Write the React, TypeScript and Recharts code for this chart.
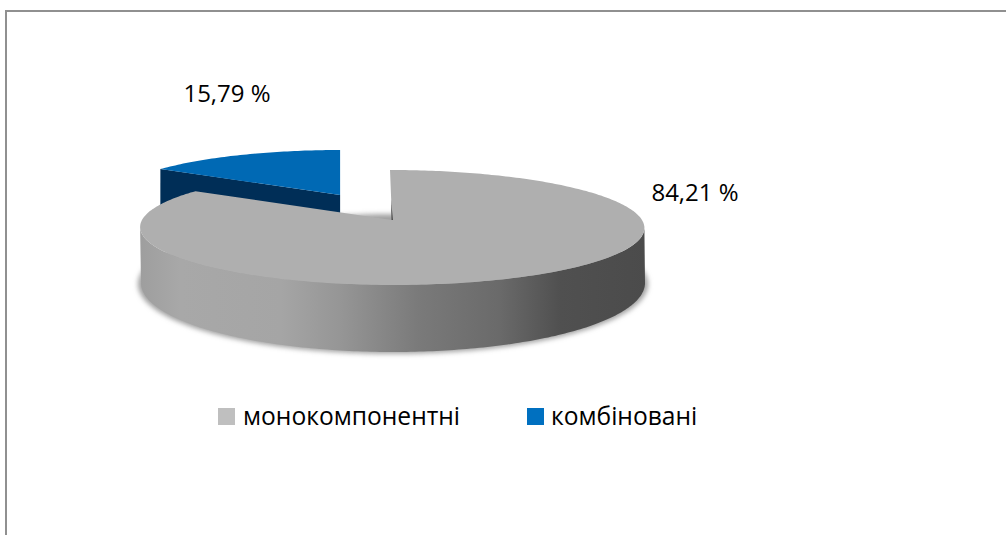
import { Legend, Pie, PieChart } from 'recharts';

const CATEGORIES = ['комбіновані', 'монокомпонентні'];
const SHARES = [15.79, 84.21];
const LEGEND_COLORS = ['#0070c0', '#bfbfbf'];

const TOP_COLORS: Record<string, string> = {
  'комбіновані': '#0069b4',
  'монокомпонентні': '#afafaf',
};

const LABEL_SPOTS: Record<string, { x: number; y: number }> = {
  'комбіновані': { x: 227, y: 92 },
  'монокомпонентні': { x: 695, y: 191 },
};

const TEXT_FONT = '"Open Sans", sans-serif';

const pieData = CATEGORIES.map((name, i) => ({
  name,
  value: SHARES[i],
  fill: LEGEND_COLORS[i],
}));

// the 3d look: disk is tilted and seen in perspective
const PERSPECTIVE = 0.13;
const TILT = 0.226;
const SKEW = 2;

function rim(r: number, deg: number, skew = SKEW) {
  const rad = (deg * Math.PI) / 180;
  const u = Math.cos(rad);
  const v = Math.sin(rad);
  const w = 1 + PERSPECTIVE * v;
  return { x: (r * u) / w - skew * v, y: (-r * TILT * v) / w };
}

function rimPoints(cx: number, cy: number, r: number, from: number, to: number, sx = 1, sy = 1, skew = SKEW) {
  const steps = Math.ceil(Math.abs(to - from));
  const pts: string[] = [];
  for (let i = 0; i <= steps; i++) {
    const p = rim(r, from + ((to - from) * i) / steps, skew);
    pts.push(`${(cx + p.x * sx).toFixed(1)},${(cy + p.y * sy).toFixed(1)}`);
  }
  return pts;
}

function lowerEdge(cx: number, cy: number, r: number, from: number, to: number) {
  const steps = Math.ceil(Math.abs(to - from));
  const pts: string[] = [];
  for (let i = 0; i <= steps; i++) {
    const t = ((from + ((to - from) * i) / steps) * Math.PI) / 180;
    pts.push(`${(cx + 1 + r * 1.008 * Math.cos(t)).toFixed(1)},${(cy + 63 - r * 0.276 * Math.sin(t)).toFixed(1)}`);
  }
  return pts;
}

function Slice3D(props: any) {
  const { cx, cy, outerRadius: r, startAngle, endAngle, name } = props;

  if (name === 'комбіновані') {
    const mid = ((startAngle + endAngle) / 2) * (Math.PI / 180);
    const ax = cx + 109 * Math.cos(mid);
    const ay = cy - 28.4 * Math.sin(mid);
    const top = rimPoints(ax, ay, r, startAngle, endAngle, 0.92, 0.9, 0);
    const first = rim(r, startAngle, 0);
    const lx = ax + first.x * 0.92;
    const ly = ay + first.y * 0.9;
    return (
      <g>
        <polygon points={`${lx},${ly} ${ax},${ay} ${ax},${ay + 60} ${lx},${ly + 60}`} fill="#002e57" />
        <polygon points={`${ax},${ay} ${top.join(' ')}`} fill={TOP_COLORS[name]} />
      </g>
    );
  }

  const top = rimPoints(cx, cy, r, startAngle, endAngle);
  const wall = [...rimPoints(cx, cy, r, 187.5, 352.5), ...lowerEdge(cx, cy, r, 360, 180)];
  const shadow = lowerEdge(cx, cy + 1, r * 1.012, 0, 360);
  return (
    <g>
      <defs>
        <linearGradient id="wallShade" gradientUnits="userSpaceOnUse" x1={cx - 252} x2={cx + 254} y1={0} y2={0}>
          <stop offset="0" stopColor="#9e9e9e" />
          <stop offset="0.08" stopColor="#a8a8a8" />
          <stop offset="0.28" stopColor="#a5a5a5" />
          <stop offset="0.4" stopColor="#959595" />
          <stop offset="0.55" stopColor="#7a7a7a" />
          <stop offset="0.71" stopColor="#6a6a6a" />
          <stop offset="0.83" stopColor="#505050" />
          <stop offset="1" stopColor="#4b4b4b" />
        </linearGradient>
        <filter id="softEdge" x="-5%" y="-20%" width="110%" height="140%">
          <feGaussianBlur stdDeviation="2.5" />
        </filter>
      </defs>
      <polygon points={shadow.join(' ')} fill="#a0a0a0" filter="url(#softEdge)" />
      <polygon points={wall.join(' ')} fill="url(#wallShade)" />
      <polygon points={`${cx},${cy} ${top.join(' ')}`} fill={TOP_COLORS[name]} />
      <polygon points={`${cx - 1},${cy - 20} ${cx + 1},${cy} ${cx - 0.5},${cy}`} fill="#4d4d4d" />
    </g>
  );
}

function renderLabel(props: any) {
  const spot = LABEL_SPOTS[props.name];
  return (
    <text x={spot.x} y={spot.y} textAnchor="middle" dominantBaseline="central" fontSize={24} fontFamily={TEXT_FONT} fill="#000">
      {`${props.value.toFixed(2).replace('.', ',')} %`}
    </text>
  );
}

function LegendRow({ payload }: any) {
  const items = [...(payload ?? [])].reverse();
  return (
    <div style={{ display: 'flex', fontFamily: TEXT_FONT, fontSize: 24.6, lineHeight: '32px', color: '#000' }}>
      {items.map((item: any, i: number) => (
        <div key={item.value} style={{ display: 'flex', alignItems: 'center', width: i === 0 ? 309 : 200 }}>
          <span style={{ width: 17, height: 17, background: item.color, marginRight: i === 0 ? 8 : 7, flex: 'none' }} />
          <span>{item.value}</span>
        </div>
      ))}
    </div>
  );
}

export default function App() {
  return (
    <div style={{ position: 'absolute', left: 0, top: 0, width: 1006, height: 535, overflow: 'hidden', background: '#fff' }}>
      <div
        style={{
          position: 'absolute',
          left: 5,
          top: 10,
          width: 1001,
          height: 525,
          boxSizing: 'border-box',
          borderTop: '2px solid #909090',
          borderLeft: '2px solid #909090',
        }}
      />
      <PieChart width={1006} height={535} margin={{ top: 0, right: 0, bottom: 0, left: 0 }} style={{ position: 'absolute', left: 0, top: 0 }}>
        <Pie
          data={pieData}
          dataKey="value"
          nameKey="name"
          cx={392}
          cy={220}
          outerRadius={250}
          startAngle={90 + (360 * SHARES[0]) / 100}
          endAngle={90 + (360 * SHARES[0]) / 100 - 360}
          stroke="none"
          shape={Slice3D}
          label={renderLabel}
          labelLine={false}
          isAnimationActive={false}
        />
        <Legend
          content={<LegendRow />}
          wrapperStyle={{ position: 'absolute', left: 218, top: 400, width: 520, height: 32 }}
        />
      </PieChart>
    </div>
  );
}
